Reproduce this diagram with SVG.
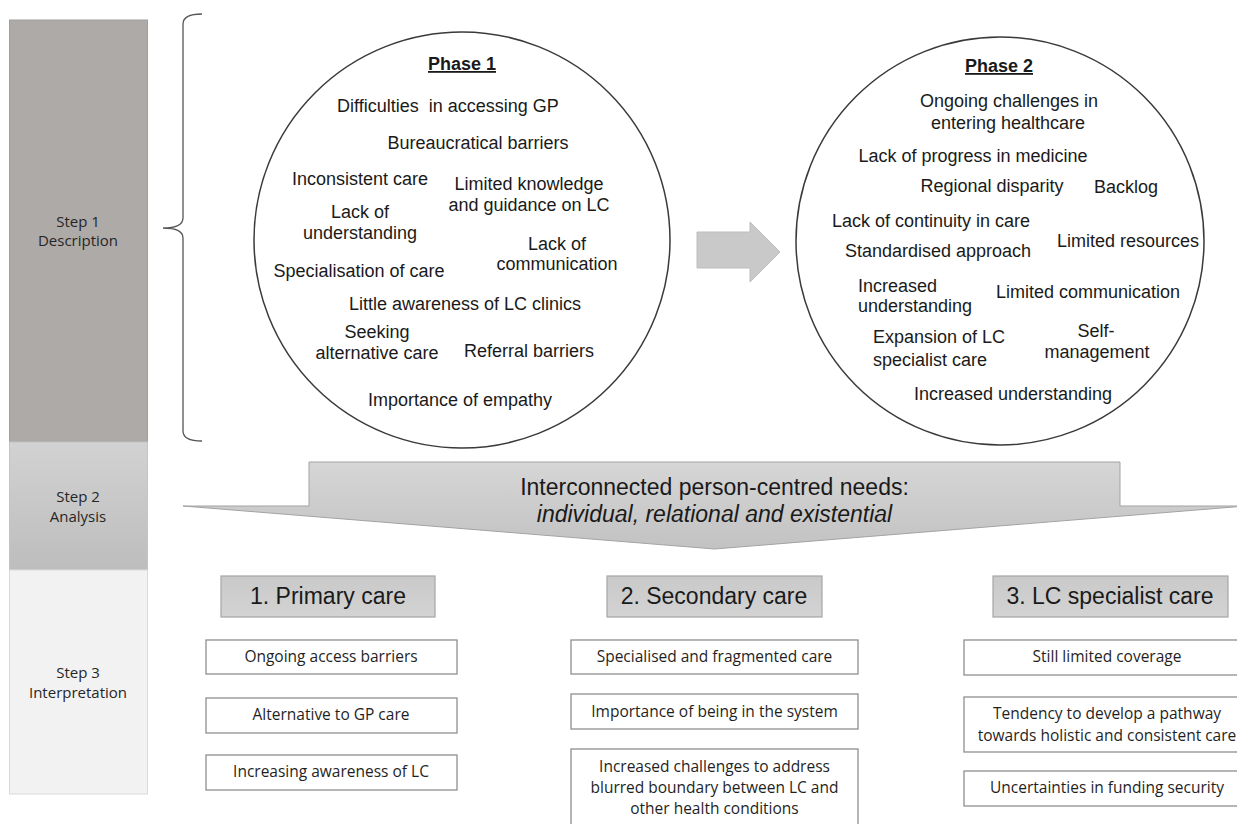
<svg xmlns="http://www.w3.org/2000/svg" width="1237" height="824" viewBox="0 0 1237 824">
<defs>
<linearGradient id="gStep2" x1="0" y1="0" x2="0" y2="1"><stop offset="0" stop-color="#d2d2d2"/><stop offset="1" stop-color="#bdbdbd"/></linearGradient>
<linearGradient id="gBig" x1="0" y1="0" x2="0" y2="1"><stop offset="0" stop-color="#d6d6d6"/><stop offset="1" stop-color="#c2c2c2"/></linearGradient>
<linearGradient id="gHead" x1="0" y1="0" x2="0" y2="1"><stop offset="0" stop-color="#c9c9c9"/><stop offset="1" stop-color="#d3d3d3"/></linearGradient>
</defs>
<style>
.step{font-family:"Open Sans","Liberation Sans",sans-serif;font-size:15px;fill:#262626;text-anchor:middle}
.ct{font-family:"Liberation Sans",Arial,sans-serif;font-size:18px;fill:#1a1a1a;text-anchor:middle}
.cs{font-family:"Liberation Sans",Arial,sans-serif;font-size:18px;fill:#1a1a1a;text-anchor:start}
.ph{font-family:"Liberation Sans",Arial,sans-serif;font-size:18px;font-weight:bold;fill:#1a1a1a;text-anchor:middle;text-decoration:underline}
.circ{fill:#ffffff;stroke:#3a3a3a;stroke-width:1.5}
.hd{fill:url(#gHead);stroke:#a6a6a6;stroke-width:1.2}
.hdt{font-family:"Liberation Sans",Arial,sans-serif;font-size:23px;fill:#1a1a1a;text-anchor:middle}
.bx{fill:#ffffff;stroke:#8f8f8f;stroke-width:1.3}
.bt{font-family:"Open Sans","Liberation Sans",sans-serif;font-size:15.5px;fill:#1f1f1f;text-anchor:middle}
.big{font-family:"Liberation Sans",Arial,sans-serif;font-size:23px;fill:#1a1a1a;text-anchor:middle}
</style>
<rect width="1237" height="824" fill="#ffffff"/>

<g id="step1">
<rect x="9.5" y="20" width="138" height="422" fill="#aeaaa8" stroke="#a29e9c" stroke-width="1"/>
<text class="step" x="78" y="227">Step 1</text>
<text class="step" x="78" y="246">Description</text>
</g>
<g id="step2">
<rect x="9.5" y="442" width="138" height="128" fill="url(#gStep2)" stroke="#c4c4c4" stroke-width="1"/>
<text class="step" x="78" y="502">Step 2</text>
<text class="step" x="78" y="522">Analysis</text>
</g>
<g id="step3">
<rect x="9.5" y="570" width="138" height="224" fill="#f2f2f2" stroke="#dadada" stroke-width="1"/>
<text class="step" x="78" y="678">Step 3</text>
<text class="step" x="78" y="698">Interpretation</text>
</g>

<g id="connectors">
<path d="M202,14 Q183,14 183,24 L183,218 Q183,228 163,228 Q183,228 183,238 L183,431 Q183,441 202,441" fill="none" stroke="#555555" stroke-width="1.3"/>
<polygon points="697,232 750,232 750,222 780,252 750,282 750,268 697,268" fill="#c9c9c9" stroke="#bdbdbd" stroke-width="1"/>
</g>

<g id="phase1">
<circle class="circ" cx="462" cy="240" r="208"/>
<text class="ph" x="462" y="70">Phase 1</text>
<text class="ct" x="448" y="112" xml:space="preserve">Difficulties  in accessing GP</text>
<text class="ct" x="478" y="149">Bureaucratical barriers</text>
<text class="ct" x="360" y="185">Inconsistent care</text>
<text class="ct" x="529" y="190">Limited knowledge</text>
<text class="ct" x="529" y="211">and guidance on LC</text>
<text class="ct" x="360" y="218">Lack of</text>
<text class="ct" x="360" y="239">understanding</text>
<text class="ct" x="557" y="250">Lack of</text>
<text class="ct" x="557" y="270">communication</text>
<text class="ct" x="359" y="277">Specialisation of care</text>
<text class="ct" x="465" y="310">Little awareness of LC clinics</text>
<text class="ct" x="377" y="338">Seeking</text>
<text class="ct" x="377" y="359">alternative care</text>
<text class="ct" x="529" y="357">Referral barriers</text>
<text class="ct" x="460" y="406">Importance of empathy</text>
</g>

<g id="phase2">
<circle class="circ" cx="1000" cy="241" r="204"/>
<text class="ph" x="999" y="72">Phase 2</text>
<text class="ct" x="1009" y="107">Ongoing challenges in</text>
<text class="ct" x="1008" y="129">entering healthcare</text>
<text class="ct" x="973" y="162">Lack of progress in medicine</text>
<text class="ct" x="992" y="192">Regional disparity</text>
<text class="ct" x="1126" y="193">Backlog</text>
<text class="ct" x="931" y="227">Lack of continuity in care</text>
<text class="ct" x="1128" y="247">Limited resources</text>
<text class="ct" x="938" y="257">Standardised approach</text>
<text class="cs" x="858" y="292">Increased</text>
<text class="cs" x="858" y="312">understanding</text>
<text class="ct" x="1088" y="298">Limited communication</text>
<text class="cs" x="873" y="343">Expansion of LC</text>
<text class="cs" x="873" y="366">specialist care</text>
<text class="ct" x="1096" y="337">Self-</text>
<text class="ct" x="1097" y="358">management</text>
<text class="ct" x="1013" y="400">Increased understanding</text>
</g>

<g id="analysis-arrow">
<polygon points="309,462 1120,462 1120,506 1246,506 714.5,549 183,506 309,506" fill="url(#gBig)" stroke="#a3a3a3" stroke-width="1"/>
<text class="big" x="714.5" y="495">Interconnected person-centred needs:</text>
<text class="big" x="714.5" y="522" font-style="italic">individual, relational and existential</text>
</g>

<g id="primary-care">
<rect class="hd" x="221" y="576" width="214" height="41"/>
<text class="hdt" x="328" y="604">1. Primary care</text>
</g>
<g id="pc-1">
<rect class="bx" x="206" y="640" width="251" height="34"/>
<text class="bt" x="331" y="662">Ongoing access barriers</text>
</g>
<g id="pc-2">
<rect class="bx" x="206" y="698" width="251" height="35"/>
<text class="bt" x="331" y="720">Alternative to GP care</text>
</g>
<g id="pc-3">
<rect class="bx" x="206" y="755" width="251" height="35"/>
<text class="bt" x="331" y="777">Increasing awareness of LC</text>
</g>

<g id="secondary-care">
<rect class="hd" x="607" y="576" width="215" height="41"/>
<text class="hdt" x="714" y="604">2. Secondary care</text>
</g>
<g id="sc-1">
<rect class="bx" x="571" y="640" width="287" height="34"/>
<text class="bt" x="714.5" y="662">Specialised and fragmented care</text>
</g>
<g id="sc-2">
<rect class="bx" x="571" y="694" width="287" height="35"/>
<text class="bt" x="714.5" y="717">Importance of being in the system</text>
</g>
<g id="sc-3">
<rect class="bx" x="571" y="749" width="287" height="90"/>
<text class="bt" x="714.5" y="772">Increased challenges to address</text>
<text class="bt" x="714.5" y="793">blurred boundary between LC and</text>
<text class="bt" x="714.5" y="814">other health conditions</text>
</g>

<g id="lc-specialist-care">
<rect class="hd" x="993" y="576" width="235" height="41"/>
<text class="hdt" x="1110" y="604">3. LC specialist care</text>
</g>
<g id="lc-1">
<rect class="bx" x="964" y="640" width="288" height="35"/>
<text class="bt" x="1107" y="662">Still limited coverage</text>
</g>
<g id="lc-2">
<rect class="bx" x="964" y="697" width="288" height="55"/>
<text class="bt" x="1107" y="719">Tendency to develop a pathway</text>
<text class="bt" x="1107" y="741">towards holistic and consistent care</text>
</g>
<g id="lc-3">
<rect class="bx" x="964" y="771" width="288" height="35"/>
<text class="bt" x="1107" y="793">Uncertainties in funding security</text>
</g>
</svg>
